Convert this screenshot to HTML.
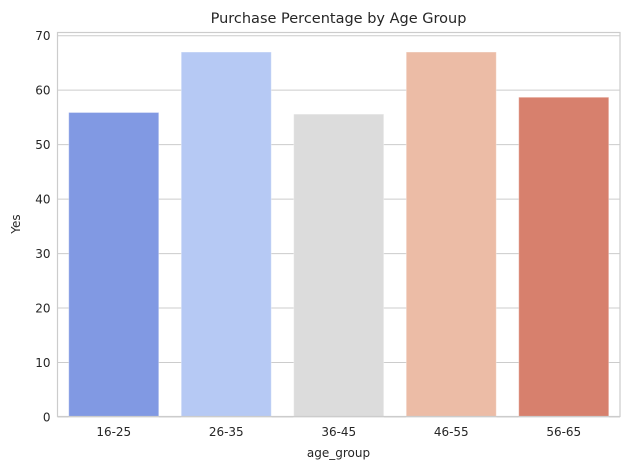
<!DOCTYPE html>
<html><head><meta charset="utf-8"><style>
body{margin:0;background:#fff;font-family:"DejaVu Sans","Liberation Sans",sans-serif}
</style></head><body>
<svg id="c" width="630" height="470" xmlns="http://www.w3.org/2000/svg">
<text x="338.5" y="23" text-anchor="middle" font-size="14.5" fill="#262626">Purchase Percentage by Age Group</text>
<g id="grid"></g><g id="bars"></g><g id="ticks"></g>
<rect x="57.5" y="32.5" width="562.5" height="384" fill="none" stroke="#cccccc" stroke-width="1.2"/>
<text x="338.5" y="457" text-anchor="middle" font-size="12" fill="#262626">age_group</text>
<text transform="translate(20,224) rotate(-90)" text-anchor="middle" font-size="12" fill="#262626">Yes</text>
</svg>
<script>
const categories=["16-25","26-35","36-45","46-55","56-65"];
const values=[55.9,67.0,55.6,67.0,58.7];
const colors=["#8199e3","#b6c9f4","#dcdcdc","#ecbca6","#d7806d"];
const yTicks=[0,10,20,30,40,50,60,70];
const ns="http://www.w3.org/2000/svg";
const L=57.5,R=620,Y0=417,PX=5.447;
const y=v=>Y0-v*PX;
const step=(R-L)/categories.length;
const xc=i=>L+step*(i+0.5);
const g=document.getElementById('grid'),b=document.getElementById('bars'),t=document.getElementById('ticks');
function mk(tag,a,p){const e=document.createElementNS(ns,tag);for(const k in a)e.setAttribute(k,a[k]);p.appendChild(e);return e;}
yTicks.forEach(v=>{
 const l=mk('line',{x1:L,x2:R,y1:y(v),y2:y(v),stroke:'#cccccc','stroke-width':1},g);
 
 
 const tx=mk('text',{x:L-7,y:y(v)+4.5,'text-anchor':'end','font-size':12,fill:'#262626'},t);
 tx.textContent=v;
 
 
});
categories.forEach((c,i)=>{
 const w=step*0.8;
 const r=mk('rect',{x:xc(i)-w/2,y:y(values[i]),width:w,height:Y0-y(values[i]),fill:colors[i],stroke:'#ffffff','stroke-opacity':0.3},b);
 
 
 const tx=mk('text',{x:xc(i),y:Y0+19,'text-anchor':'middle','font-size':12,fill:'#262626'},t);
 tx.textContent=c;
 
 
});
</script>
</body></html>
